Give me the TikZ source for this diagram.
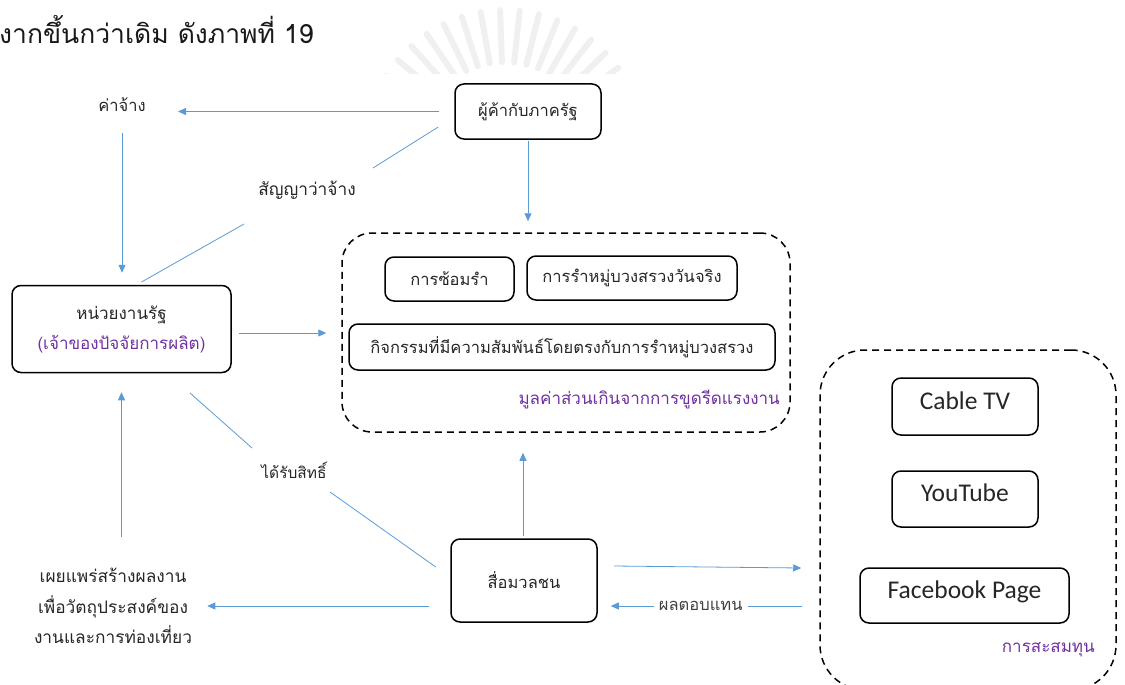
\documentclass[tikz,border=0pt]{standalone}
\usepackage{fontspec}
\newfontfamily\thaifont[Script=Thai]{Loma}
\newfontfamily\latfont{Carlito}
\usetikzlibrary{arrows.meta}
\definecolor{flowblue}{HTML}{5B9BD5}
\definecolor{notepurple}{HTML}{7030A0}
\newcommand\thsize[1]{\fontsize{#1}{#1}\selectfont}
\begin{document}
\begin{tikzpicture}[x=1pt,y=-1pt,
  every node/.style={font=\thaifont\thsize{16.5}, text=black!85, inner sep=2pt},
  box/.style={draw=black, line width=1.5pt, rounded corners=9pt, align=center},
  panel/.style={draw=black, line width=1.5pt, dash pattern=on 7pt off 5pt},
  engbox/.style={box, font=\latfont\thsize{25.5}},
  flow/.style={draw=flowblue, line width=0.8pt},
  arr/.style={flow, -{Triangle[length=8pt,width=7pt]}},
  note/.style={text=notepurple, font=\thaifont\thsize{17}}
]
\useasboundingbox (0,0) rectangle (1125,685);

% faint emblem rays behind the heading
\begin{scope}
  \clip (380,0) rectangle (640,74);
  \foreach \a in {36,44,...,148}
    \draw[black!6, line width=6pt, line cap=round]
      (505,150) ++(-\a:88) -- ++(-\a:52);
\end{scope}

% heading line of the page text
\node[anchor=west, font=\thaifont\thsize{26.5}, text=black!90]
  (heading) at (-3,30) {งากขึ้นกว่าเดิม ดังภาพที่ 19};

% boxes
\node[box, minimum width=146pt, minimum height=55pt] (trader) at (528,111.5) {ผู้ค้ากับภาครัฐ};
\node[panel, rounded corners=30pt, minimum width=448pt, minimum height=199pt] (panel1) at (566,332.5) {};
\node[box, minimum width=129pt, minimum height=44pt] (practice) at (449.5,279) {การซ้อมรำ};
\node[box, minimum width=210pt, minimum height=44pt] (realday) at (632,278) {การรำหมู่บวงสรวงวันจริง};
\node[box, minimum width=426pt, minimum height=46pt] (activity) at (562,347) {กิจกรรมที่มีความสัมพันธ์โดยตรงกับการรำหมู่บวงสรวง};
\node[note, anchor=east] (surplus) at (782,400) {มูลค่าส่วนเกินจากการขูดรีดแรงงาน};

\node[box, minimum width=219pt, minimum height=87pt, font=\thaifont\fontsize{17}{30}\selectfont] (agency) at (121.5,329)
  {หน่วยงานรัฐ\\\textcolor{notepurple}{(เจ้าของปัจจัยการผลิต)}};

\node[box, minimum width=146pt, minimum height=83pt] (media) at (524,580.5) {สื่อมวลชน};

\node[panel, rounded corners=45pt, minimum width=296pt, minimum height=340pt] (panel2) at (968,520) {};
\node[engbox, minimum width=146pt, minimum height=57pt, text depth=12pt] (cable) at (965,406.5) {Cable TV};
\node[engbox, minimum width=146pt, minimum height=56pt, text depth=12pt] (yt) at (965,499) {YouTube};
\node[engbox, minimum width=209pt, minimum height=55pt, text depth=12pt] (fb) at (964.5,595.5) {Facebook Page};
\node[note, anchor=east] (capital) at (1097,650) {การสะสมทุน};

% free labels
\node (wage) at (122,105) {ค่าจ้าง};
\node[font=\thaifont\thsize{17.3}] (contract) at (307,190) {สัญญาว่าจ้าง};
\node[font=\thaifont\thsize{15.5}] (rights) at (294,470) {ได้รับสิทธิ์};
\node[align=center, font=\thaifont\fontsize{17.3}{30.5}\selectfont] (spread) at (113,606)
  {เผยแพร่สร้างผลงาน\\เพื่อวัตถุประสงค์ของ\\งานและการท่องเที่ยว};

% connectors
\draw[arr, shorten <=15pt, shorten >=56pt] (trader.west) -- (trader.west -| wage.center);
\draw[arr, shorten <=28pt, shorten >=12pt] (wage.center) -- (wage.center |- agency.north);
\draw[flow] ([shift={(-16,15.5)}]trader.west) -- ([shift={(66,-22)}]contract.center);
\draw[flow] ([shift={(-63,34)}]contract.center) -- ([shift={(20,-47)}]agency.center);
\draw[arr, shorten <=1pt, shorten >=11pt] (trader.south) -- (trader.south |- panel1.north);
\draw[arr, shorten <=7pt, shorten >=15pt] ([shift={(0,4)}]agency.east) -- ([shift={(0,4)}]agency.east -| panel1.west);
\draw[arr] ([shift={(0,164)}]agency.south) -- ([shift={(0,19)}]agency.south);
\draw[flow] ([shift={(68.5,64)}]agency.center) -- ([shift={(-42,-22)}]rights.center);
\draw[flow] ([shift={(36,22)}]rights.center) -- ([shift={(-14.5,-13.5)}]media.west);
\draw[arr, shorten <=2pt, shorten >=20pt] ([xshift=-1pt]media.north) -- ([xshift=-1pt]media.north |- panel1.south);
\draw[arr] ([shift={(-21,25.5)}]media.west) -- ([shift={(-243,25.5)}]media.west);
\draw[arr] ([shift={(16,-14.5)}]media.east) -- ([shift={(-18,48)}]panel2.west);
\draw[arr] ([shift={(-17,86)}]panel2.west) -- ([shift={(13,25.5)}]media.east)
  node[pos=0.53, fill=white, inner sep=5pt, text=black!75] (reward) {ผลตอบแทน};
\end{tikzpicture}
\end{document}
